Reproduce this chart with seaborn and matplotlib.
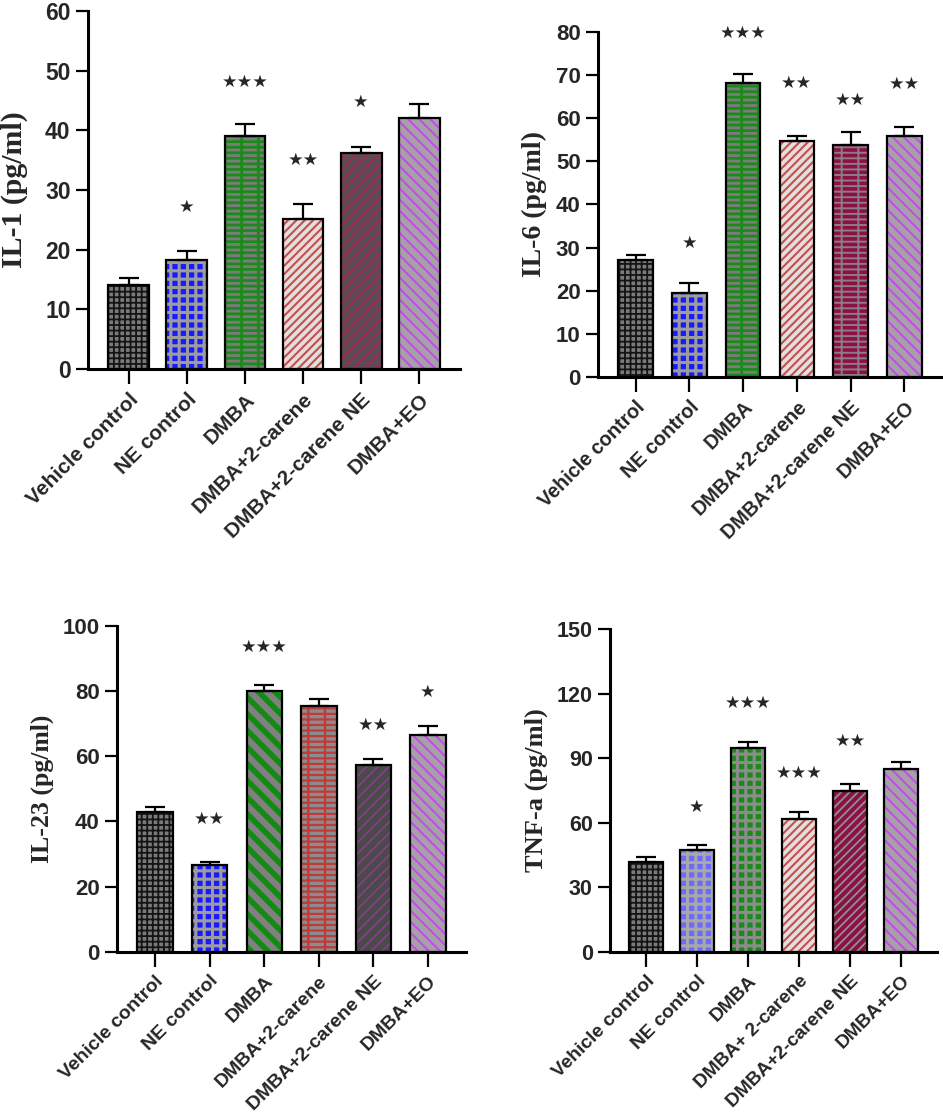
import numpy as np
import pandas as pd
import matplotlib
matplotlib.use("Agg")
import matplotlib.pyplot as plt
import seaborn as sns

# group names (TNF panel writes "DMBA+ 2-carene")
groups = ["Vehicle control", "NE control", "DMBA", "DMBA+2-carene", "DMBA+2-carene NE", "DMBA+EO"]
groups_tnf = ["Vehicle control", "NE control", "DMBA", "DMBA+ 2-carene", "DMBA+2-carene NE", "DMBA+EO"]

# values (mean, upper SEM)
il1 = [14.0, 18.2, 39.1, 25.2, 36.2, 42.0]
il1_err = [1.2, 1.5, 1.9, 2.4, 1.0, 2.4]
il1_stars = ["", "*", "***", "**", "*", ""]
il1_star_y = [np.nan, 27.2, 48.1, 35.0, 44.8, np.nan]

il6 = [27.0, 19.4, 68.2, 54.7, 53.8, 56.0]
il6_err = [1.3, 2.3, 2.1, 1.1, 3.0, 1.9]
il6_stars = ["", "*", "***", "**", "**", "**"]
il6_star_y = [np.nan, 31.1, 79.8, 68.3, 64.3, 68.1]

il23 = [42.8, 26.7, 80.0, 75.6, 57.2, 66.6]
il23_err = [1.6, 1.0, 2.0, 2.1, 2.1, 2.7]
il23_stars = ["", "**", "***", "", "**", "*"]
il23_star_y = [np.nan, 40.7, 93.5, np.nan, 69.6, 79.8]

tnf = [41.7, 47.4, 94.7, 61.7, 74.6, 85.0]
tnf_err = [2.5, 2.2, 2.7, 3.3, 3.2, 3.4]
tnf_stars = ["", "*", "***", "***", "**", ""]
tnf_star_y = [np.nan, 67.5, 115.6, 83.0, 98.0, np.nan]

# fill styles: (face, hatch, hatch colour, hatch width)
VEH = ("#7a7a7a", "+++", "#141414", 1.3)
NEC = ("#1a1aff", "++", "#9c9c9c", 2.2)
NEC_L = ("#6b6bff", "++", "#a8a8a8", 2.2)
DMBA_BRICK = ("#7c7c7c", "---|", "#1b8a1b", 2.0)
DMBA_STRIPE = ("#808080", "\\\\", "#138a13", 4.0)
DMBA_CHECK = ("#1b8a1b", "++", "#8c8c8c", 2.2)
CAR = ("#e4dede", "////", "#c4504e", 1.5)
CAR_BRICK = ("#8c8c8c", "---|", "#c03a3a", 1.6)
CNE_STRIPE = ("#5e4c55", "///", "#9c2a52", 1.5)
CNE_BRICK = ("#8c0f45", "---|", "#8c7c84", 1.4)
CNE_DARK = ("#4a4a4a", "///", "#8c3c8c", 1.2)
CNE_DASH = ("#8c0f45", "////", "#909090", 1.3)
EO = ("#a8a0a8", "\\\\\\", "#c24ee8", 1.5)

panels = [
    dict(names=groups, vals=il1, err=il1_err, stars=il1_stars, sy=il1_star_y,
         label="IL-1 (pg/ml)", ymax=60, step=10, width=0.7,
         rect=[0.0933, 0.6685, 0.3945, 0.3217], fs=16.5, xfs=15, lfs=21.5, lpad=12,
         styles=[VEH, NEC, DMBA_BRICK, CAR, CNE_STRIPE, EO]),
    dict(names=groups, vals=il6, err=il6_err, stars=il6_stars, sy=il6_star_y,
         label="IL-6 (pg/ml)", ymax=80, step=10, width=0.64,
         rect=[0.6341, 0.6616, 0.3648, 0.3094], fs=16, xfs=14.3, lfs=20, lpad=6,
         styles=[VEH, NEC, DMBA_BRICK, CAR, CNE_BRICK, EO]),
    dict(names=groups, vals=il23, err=il23_err, stars=il23_stars, sy=il23_star_y,
         label="IL-23 (pg/ml)", ymax=100, step=20, width=0.65,
         rect=[0.1241, 0.1449, 0.3701, 0.2926], fs=16, xfs=14, lfs=18.5, lpad=6,
         styles=[VEH, NEC, DMBA_STRIPE, CAR_BRICK, CNE_DARK, EO]),
    dict(names=groups_tnf, vals=tnf, err=tnf_err, stars=tnf_stars, sy=tnf_star_y,
         label="TNF-a (pg/ml)", ymax=150, step=30, width=0.66,
         rect=[0.6469, 0.1449, 0.3468, 0.2897], fs=15.5, xfs=13.8, lfs=19, lpad=6,
         styles=[VEH, NEC_L, DMBA_CHECK, CAR, CNE_DASH, EO]),
]

sns.set_style("ticks")
plt.rcParams["font.family"] = ["Liberation Sans", "DejaVu Sans"]
plt.rcParams["font.weight"] = "bold"

fig = plt.figure(figsize=(9.43, 11.13), dpi=100)

for p in panels:
    ax = fig.add_axes(p["rect"])
    df = pd.DataFrame({"group": p["names"], "value": p["vals"]})

    # hatched fill layer
    sns.barplot(data=df, x="group", y="value", errorbar=None, width=p["width"],
                color="gray", linewidth=0, ax=ax)
    for bar, (fc, h, hc, hw) in zip(ax.patches, p["styles"]):
        bar.set_facecolor(fc)
        bar.set_edgecolor(hc)
        bar.set_hatch(h)
        bar.set_linewidth(0)
        if hasattr(bar, "set_hatch_linewidth"):
            bar.set_hatch_linewidth(hw)
    n_fill = len(ax.patches)

    # black outline layer
    sns.barplot(data=df, x="group", y="value", errorbar=None, width=p["width"],
                fill=False, edgecolor="black", linewidth=1.6, ax=ax)

    centers = [b.get_x() + b.get_width() / 2 for b in ax.patches[:n_fill]]
    ax.errorbar(centers, p["vals"], yerr=[np.zeros(len(p["err"])), p["err"]],
                fmt="none", ecolor="black", elinewidth=1.6, capsize=7, capthick=1.6,
                zorder=5)

    # significance stars (five-pointed, as in the figure)
    for xc, s, y in zip(centers, p["stars"], p["sy"]):
        if s:
            ax.text(xc, y, "\u2605" * len(s), ha="center", va="center",
                    fontsize=12.5, fontweight="normal", family="DejaVu Sans",
                    color="#262626")

    ax.set_xlim(-0.7, 5.7)
    ax.set_ylim(0, p["ymax"])
    ax.set_yticks(np.arange(0, p["ymax"] + 1, p["step"]))
    ax.set_xlabel("")
    ax.set_ylabel(p["label"], fontfamily="Liberation Serif", fontweight="bold",
                  fontsize=p["lfs"], labelpad=p["lpad"])
    ax.set_xticks(range(len(p["names"])))
    ax.set_xticklabels(p["names"], rotation=45, ha="right", rotation_mode="anchor",
                       fontsize=p["xfs"], fontweight="bold")
    for t in ax.get_yticklabels():
        t.set_fontsize(p["fs"])
        t.set_fontweight("bold")
    ax.tick_params(axis="both", width=1.6, length=9, color="black")
    ax.tick_params(axis="x", length=11, pad=4)
    sns.despine(ax=ax)
    for side in ["left", "bottom"]:
        ax.spines[side].set_linewidth(2.2)
        ax.spines[side].set_color("black")

fig.savefig("out.png", dpi=100)
